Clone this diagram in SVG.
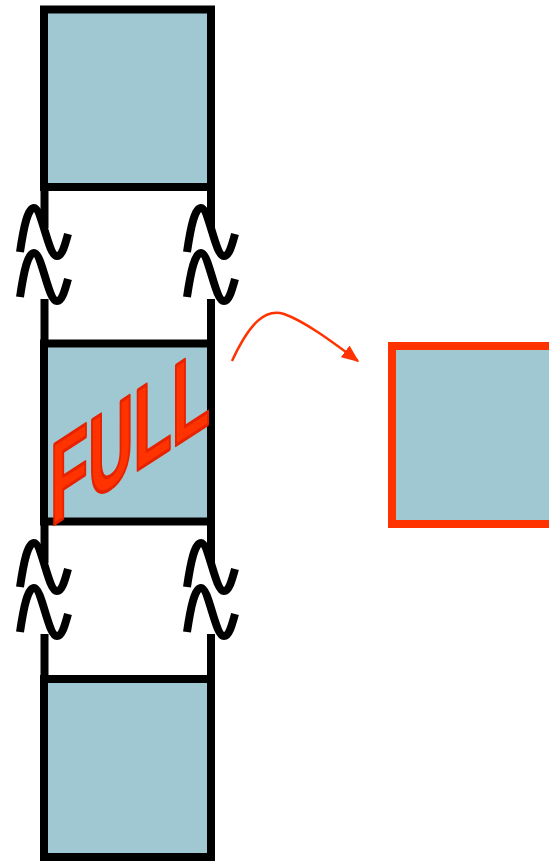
<svg xmlns="http://www.w3.org/2000/svg" width="549" height="861" viewBox="0 0 549 861">
<style>
.box{fill:#a0c8d2;stroke:#000;stroke-width:8}
.rbox{fill:#a0c8d2;stroke:#ff3300;stroke-width:8}
.ln{stroke:#000;stroke-width:8;fill:none}
.wave{stroke:#000;stroke-width:8;fill:none}
.arrow{stroke:#ff3300;stroke-width:2.5;fill:none}
.full{font-family:"Liberation Sans",Arial,sans-serif;font-weight:bold;font-size:116px;fill:#ff3300;stroke:#e62200;stroke-width:3.5;stroke-linejoin:round}
</style>
<defs>
<marker id="ah" viewBox="0 0 12 10" refX="11" refY="5" markerWidth="7" markerHeight="6" orient="auto" markerUnits="strokeWidth">
<path d="M0,0 L12,5 L0,10 z" fill="#ff3300"/>
</marker>
<path id="w" d="M20,252 C24,225 28,208 34,208 C42,208 48,256 57,256 C62,256 65,245 68,234"/>
</defs>
<g id="box-top"><rect class="box" x="44" y="9.5" width="167" height="177.5"/></g>
<g id="box-mid"><rect class="box" x="44" y="343.5" width="167" height="178"/></g>
<g id="box-bot"><rect class="box" x="44" y="679" width="167" height="178"/></g>
<g id="box-right"><rect class="rbox" x="392" y="346" width="170" height="178"/></g>
<g id="connectors">
<g id="gap1">
<path class="ln" d="M44.5,187 V228 M44.5,299 V343.5 M211,187 V228 M211,299 V343.5"/>
<use href="#w" class="wave"/>
<use href="#w" class="wave" transform="translate(0,45)"/>
<use href="#w" class="wave" transform="translate(167,0)"/>
<use href="#w" class="wave" transform="translate(167,45)"/>
</g>
<g id="gap2" transform="translate(0,335)">
<path class="ln" d="M44.5,187 V228 M44.5,299 V344 M211,187 V228 M211,299 V344"/>
<use href="#w" class="wave"/>
<use href="#w" class="wave" transform="translate(0,45)"/>
<use href="#w" class="wave" transform="translate(167,0)"/>
<use href="#w" class="wave" transform="translate(167,45)"/>
</g>
<path class="arrow" d="M232,361 C250,322 266,308 284,314 C304,321 330,340 358,361" marker-end="url(#ah)"/>
</g>
<g id="label-full">
<text class="full" transform="translate(50,527) skewY(-33) scale(0.54,1)">FULL</text>
</g>
</svg>
